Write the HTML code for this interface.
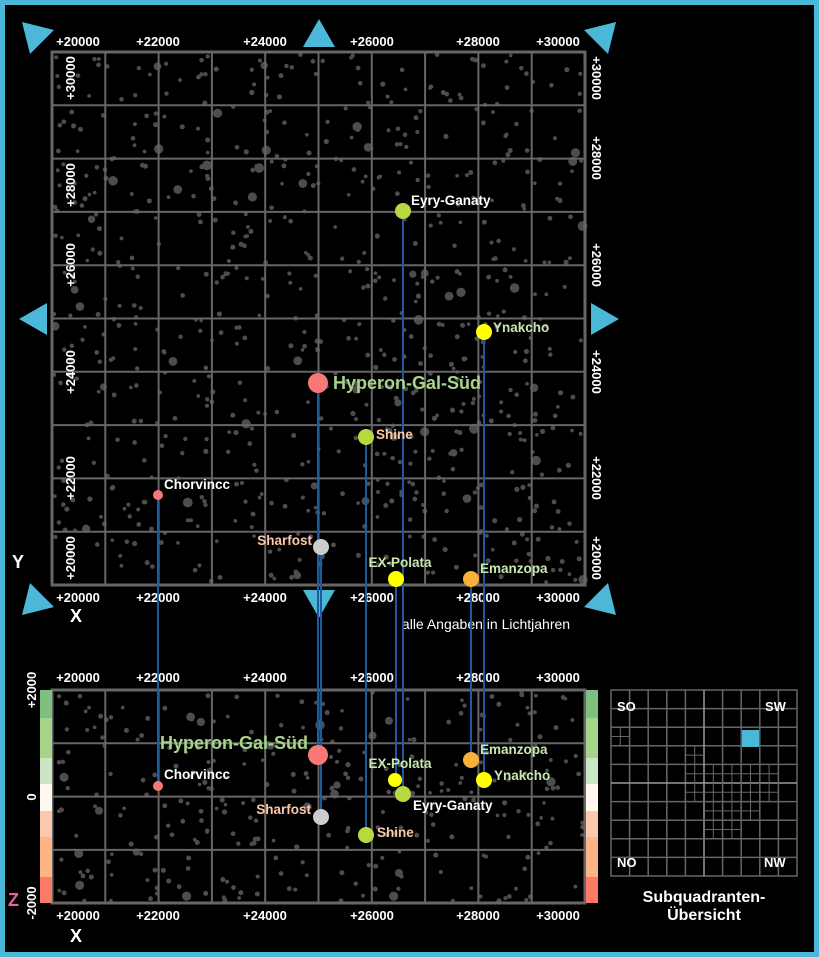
<!DOCTYPE html>
<html><head><meta charset="utf-8"><style>
html,body{margin:0;padding:0;background:#000}
svg{display:block}
text{font-family:"Liberation Sans",Arial,sans-serif;font-weight:bold}
</style></head><body>
<svg id="s" width="819" height="957" viewBox="0 0 819 957" xmlns="http://www.w3.org/2000/svg">
<rect x="0" y="0" width="819" height="957" fill="#4ab8d6"/>
<rect x="5" y="5" width="809" height="947" fill="#000"/>
<g id="stars" fill="#4d4d4d"></g>
<g id="grid" stroke="#666" stroke-width="2" fill="none"></g>
<rect x="52" y="52" width="533" height="533" fill="none" stroke="#666" stroke-width="3"/>
<rect x="52" y="690" width="533" height="213" fill="none" stroke="#666" stroke-width="3"/>
<g>
<rect x="40" y="690" width="12" height="28" fill="#7fbf7f"/><rect x="40" y="718" width="12" height="40" fill="#a8d48a"/><rect x="40" y="758" width="12" height="26" fill="#cce6c4"/><rect x="40" y="784" width="12" height="27" fill="#fff8f0"/><rect x="40" y="811" width="12" height="26" fill="#fdc8b0"/><rect x="40" y="837" width="12" height="40" fill="#fdb585"/><rect x="40" y="877" width="12" height="26" fill="#fb7b66"/>
<rect x="586" y="690" width="12" height="28" fill="#7fbf7f"/><rect x="586" y="718" width="12" height="40" fill="#a8d48a"/><rect x="586" y="758" width="12" height="26" fill="#cce6c4"/><rect x="586" y="784" width="12" height="27" fill="#fff8f0"/><rect x="586" y="811" width="12" height="26" fill="#fdc8b0"/><rect x="586" y="837" width="12" height="40" fill="#fdb585"/><rect x="586" y="877" width="12" height="26" fill="#fb7b66"/>
</g>
<g fill="#4ab8d6">
<polygon points="22,22 54,30 30,54"/>
<polygon points="319,19 303,47 335,47"/>
<polygon points="616,22 584,30 608,54"/>
<polygon points="19,319 47,303 47,335"/>
<polygon points="619,319 591,303 591,335"/>
<polygon points="22,615 54,607 30,583"/>
<polygon points="319,618 303,590 335,590"/>
<polygon points="616,615 584,607 608,583"/>
</g>
<g fill="#fff" font-size="13" text-anchor="middle" id="xl"></g>
<g fill="#fff" font-size="13" text-anchor="middle">
<text transform="translate(75,78) rotate(-90)">+30000</text>
<text transform="translate(75,185) rotate(-90)">+28000</text>
<text transform="translate(75,265) rotate(-90)">+26000</text>
<text transform="translate(75,372) rotate(-90)">+24000</text>
<text transform="translate(75,478) rotate(-90)">+22000</text>
<text transform="translate(75,558) rotate(-90)">+20000</text>
<text transform="translate(592,78) rotate(90)">+30000</text>
<text transform="translate(592,158) rotate(90)">+28000</text>
<text transform="translate(592,265) rotate(90)">+26000</text>
<text transform="translate(592,372) rotate(90)">+24000</text>
<text transform="translate(592,478) rotate(90)">+22000</text>
<text transform="translate(592,558) rotate(90)">+20000</text>
<text transform="translate(36,690) rotate(-90)">+2000</text>
<text transform="translate(36,797) rotate(-90)">0</text>
<text transform="translate(36,903) rotate(-90)">-2000</text>
</g>
<g fill="#fff" font-size="18"><text x="12" y="568">Y</text><text x="70" y="622">X</text><text x="70" y="942">X</text></g>
<text x="8" y="906" fill="#e860a0" font-size="18">Z</text>
<text x="486" y="629" fill="#fff" font-size="14" text-anchor="middle" style="font-weight:normal">alle Angaben in Lichtjahren</text>
<g stroke="#1e5aa0" stroke-width="2">
<line x1="403" y1="211" x2="403" y2="794"/><line x1="484" y1="332" x2="484" y2="780"/>
<line x1="318" y1="383" x2="318" y2="755"/><line x1="366" y1="437" x2="366" y2="835"/>
<line x1="158" y1="495" x2="158" y2="786"/><line x1="321" y1="547" x2="321" y2="817"/>
<line x1="396" y1="579" x2="396" y2="780"/><line x1="471" y1="579" x2="471" y2="760"/>
</g>
<g>
<circle cx="403" cy="211" r="8" fill="#b8d840"/><circle cx="484" cy="332" r="8" fill="#ffff00"/>
<circle cx="318" cy="383" r="10" fill="#f87878"/><circle cx="366" cy="437" r="8" fill="#b8d840"/>
<circle cx="158" cy="495" r="5" fill="#f87878"/><circle cx="321" cy="547" r="8" fill="#cccccc"/>
<circle cx="396" cy="579" r="8" fill="#ffff00"/><circle cx="471" cy="579" r="8" fill="#fbb03b"/>
<circle cx="318" cy="755" r="10" fill="#f87878"/><circle cx="158" cy="786" r="5" fill="#f87878"/>
<circle cx="321" cy="817" r="8" fill="#cccccc"/><circle cx="366" cy="835" r="8" fill="#b8d840"/>
<circle cx="395" cy="780" r="7" fill="#ffff00"/><circle cx="403" cy="794" r="8" fill="#b8d840"/>
<circle cx="471" cy="760" r="8" fill="#fbb03b"/><circle cx="484" cy="780" r="8" fill="#ffff00"/>
</g>
<g font-size="13.5">
<text x="411" y="205" fill="#fff">Eyry-Ganaty</text>
<text x="493" y="332" fill="#c8e8b0">Ynakcho</text>
<text x="333" y="389" fill="#a8d48a" font-size="18">Hyperon-Gal-Süd</text>
<text x="376" y="439" fill="#fcc8a8">Shine</text>
<text x="164" y="489" fill="#fff">Chorvincc</text>
<text x="312" y="545" fill="#fcc8a8" text-anchor="end">Sharfost</text>
<text x="400" y="567" fill="#c8e8b0" text-anchor="middle">EX-Polata</text>
<text x="480" y="573" fill="#c8e8b0">Emanzopa</text>
<text x="308" y="749" fill="#a8d48a" font-size="18" text-anchor="end">Hyperon-Gal-Süd</text>
<text x="164" y="779" fill="#fff">Chorvincc</text>
<text x="311" y="814" fill="#fcc8a8" text-anchor="end">Sharfost</text>
<text x="377" y="837" fill="#fcc8a8">Shine</text>
<text x="400" y="768" fill="#c8e8b0" text-anchor="middle">EX-Polata</text>
<text x="413" y="810" fill="#fff">Eyry-Ganaty</text>
<text x="480" y="754" fill="#c8e8b0">Emanzopa</text>
<text x="494" y="780" fill="#c8e8b0">Ynakcho</text>
</g>
<g id="ov" stroke="#666" stroke-width="1.5" fill="none"></g>
<rect x="742" y="730" width="17" height="17" fill="#4ab8d6"/>
<g fill="#fff" font-size="13"><text x="617" y="711">SO</text><text x="765" y="711">SW</text><text x="617" y="867">NO</text><text x="764" y="867">NW</text></g>
<g fill="#fff" font-size="16" style="font-weight:normal" text-anchor="middle"><text x="704" y="902">Subquadranten-</text><text x="704" y="920">Übersicht</text></g>
</svg>
<script>
var NS="http://www.w3.org/2000/svg",s=document.getElementById('s');
function el(p,t,a){var e=document.createElementNS(NS,t);for(var k in a)e.setAttribute(k,a[k]);p.appendChild(e);return e;}
var seed=7;function r(){seed=(seed*16807)%2147483647;return seed/2147483647;}
var st=document.getElementById('stars');
function stars(x0,y0,w,h,n){for(var i=0;i<n;i++){var rr=r()<0.06?3.5+r()*1.5:1.8+r()*0.8;el(st,'circle',{cx:x0+r()*w,cy:y0+r()*h,r:rr});}}
stars(54,54,529,529,750);stars(54,692,529,209,300);
var g=document.getElementById('grid'),c=533/10;
for(var i=1;i<10;i++){el(g,'line',{x1:52+i*c,y1:52,x2:52+i*c,y2:585});el(g,'line',{x1:52,y1:52+i*c,x2:585,y2:52+i*c});el(g,'line',{x1:52+i*c,y1:690,x2:52+i*c,y2:903});}
for(var j=1;j<4;j++)el(g,'line',{x1:52,y1:690+j*53.3,x2:585,y2:690+j*53.3});
var xl=document.getElementById('xl'),xs=[[78,'+20000'],[158,'+22000'],[265,'+24000'],[372,'+26000'],[478,'+28000'],[558,'+30000']];
xs.forEach(function(a){[46,602,682,920].forEach(function(y){var t=el(xl,'text',{x:a[0],y:y});t.textContent=a[1];});});
var ov=document.getElementById('ov'),ox=611,oy=690,d=186/10;
el(ov,'rect',{x:ox,y:oy,width:186,height:186});
for(var i=1;i<10;i++){var a={x1:ox+i*d,y1:oy,x2:ox+i*d,y2:oy+186},b={x1:ox,y1:oy+i*d,x2:ox+186,y2:oy+i*d};if(i==5){a.stroke=b.stroke='#999';}el(ov,'line',a);el(ov,'line',b);}
var sub=[[0,2],[4,3],[4,4],[4,5],[5,4],[5,5],[6,4],[6,5],[7,4],[7,5],[8,4],[8,5],[5,6],[6,6],[7,6],[5,7],[6,7]];
sub.forEach(function(p){var x=ox+p[0]*d,y=oy+p[1]*d;el(ov,'line',{x1:x+d/2,y1:y,x2:x+d/2,y2:y+d,'stroke-width':1});el(ov,'line',{x1:x,y1:y+d/2,x2:x+d,y2:y+d/2,'stroke-width':1});});
</script>
</body></html>
